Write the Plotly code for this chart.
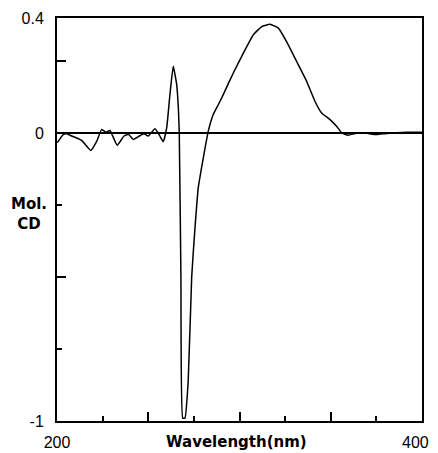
import plotly.graph_objects as go

# Wavelength (nm) and molar CD
wavelength = [200.2, 203.5, 205.3, 208.1, 213.5, 218.5, 221.8, 224.5, 226.8, 229.0,
              233.0, 236.7, 239.1, 241.8, 245.1, 247.7, 250.0, 253.7, 256.1, 258.2,
              260.1, 261.9, 263.7, 265.6, 266.5, 267.0, 267.9, 268.9, 270.1, 271.9,
              273.8, 275.6, 277.4, 280.2, 282.9, 285.6, 289.3, 291.1, 296.6, 302.1,
              307.6, 312.2, 316.7, 321.3, 325.8, 331.3, 336.8, 341.4, 345.0, 349.6,
              353.2, 356.0, 359.6, 363.3, 367.8, 375.2, 380.6, 391.6, 400.0]
mol_cd = [-0.033, -0.004, -0.002, -0.010, -0.025, -0.060, -0.028, 0.013, 0.003, 0.009,
          -0.042, -0.010, -0.004, -0.022, -0.010, -0.002, -0.010, 0.015, -0.007, -0.030,
          0.018, 0.135, 0.232, 0.168, 0.087, 0.000, -0.500, -0.990, -0.990, -0.860,
          -0.500, -0.330, -0.190, -0.085, 0.007, 0.065, 0.110, 0.134, 0.209, 0.278,
          0.342, 0.370, 0.378, 0.365, 0.318, 0.249, 0.180, 0.110, 0.070, 0.047,
          0.024, 0.001, -0.007, -0.001, 0.001, -0.005, -0.001, 0.003, 0.003]

x_major = [200, 250, 300, 350, 400]
x_major_text = ["200", "", "", "", "400\u00a0\u00a0\u00a0"]
x_minor = [225, 275, 325, 375]
y_major = [-1, -0.5, 0, 0.25, 0.4]
y_major_text = ["-1", "", "0", "", "0.4"]
y_minor = [-0.75, -0.25]

fig = go.Figure()
fig.add_trace(go.Scatter(
    x=wavelength, y=mol_cd, mode="lines",
    line=dict(color="black", width=1.5, shape="spline", smoothing=0.4),
    showlegend=False, hoverinfo="skip"))

num_font = dict(family="Liberation Sans, Arial, sans-serif", size=16, color="black")
bold_font = dict(family="DejaVu Sans, sans-serif", size=15, color="black")

# the page body has an 8px margin, so the figure is sized to fit inside it
fig.update_layout(
    width=430, height=445,
    margin=dict(l=49, r=16, t=10, b=32),
    paper_bgcolor="white", plot_bgcolor="white",
    xaxis=dict(range=[200, 400], showgrid=False, zeroline=False, automargin=False,
               showline=True, mirror=True, linecolor="black", linewidth=2,
               ticks="inside", ticklen=9, tickwidth=1.5, tickcolor="black",
               tickvals=x_major, ticktext=x_major_text, tickfont=num_font,
               ticklabelstandoff=6, ticklabeloverflow="allow",
               minor=dict(tickvals=x_minor, ticks="inside", ticklen=5,
                          tickwidth=1.5, tickcolor="black", showgrid=False)),
    yaxis=dict(range=[-1, 0.4], showgrid=False, automargin=False,
               zeroline=True, zerolinecolor="black", zerolinewidth=1.5,
               showline=True, mirror=True, linecolor="black", linewidth=2,
               ticks="inside", ticklen=9, tickwidth=1.5, tickcolor="black",
               tickvals=y_major, ticktext=y_major_text, tickfont=num_font,
               ticklabelstandoff=8, ticklabeloverflow="allow",
               minor=dict(tickvals=y_minor, ticks="inside", ticklen=5,
                          tickwidth=1.5, tickcolor="black", showgrid=False)),
    annotations=[
        dict(text="<b>Wavelength(nm)</b>", xref="paper", yref="paper",
             x=0.493, y=-0.052, xanchor="center", yanchor="middle",
             showarrow=False, font=bold_font),
        dict(text="<b>Mol.</b><br><b>CD</b>", xref="paper", yref="paper",
             x=-0.077, y=0.514, xanchor="center", yanchor="middle",
             showarrow=False, font=bold_font),
    ],
)

fig.write_html("out.html")
